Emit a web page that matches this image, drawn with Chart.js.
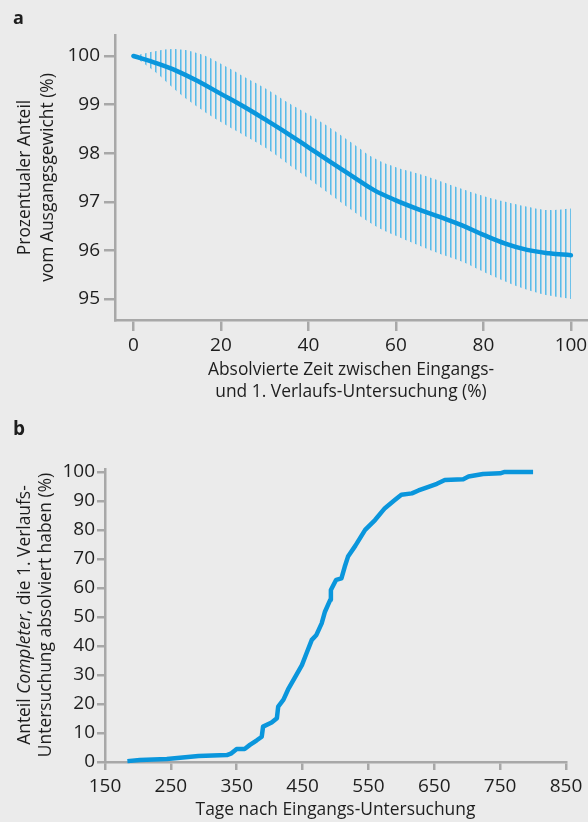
<!DOCTYPE html>
<html><head><meta charset="utf-8">
<script src="https://cdn.jsdelivr.net/npm/chart.js@4.4.1/dist/chart.umd.min.js"></script>
<style>
html,body{margin:0;padding:0;background:#ebebeb;width:588px;height:822px;overflow:hidden}
.wrap{position:absolute;left:0;width:588px}
#wa{top:0;height:410px}#wb{top:410px;height:412px}
canvas{display:block}
</style></head><body>
<div class="wrap" id="wa"><canvas id="ca" width="588" height="410"></canvas></div>
<div class="wrap" id="wb"><canvas id="cb" width="588" height="412"></canvas></div>
<script>
// ---- Panel a data ----
const timePct    = [0, 5, 10, 15, 20, 25, 30, 35, 40, 45, 50, 55, 60, 65, 70, 75, 80, 85, 90, 95, 100];
const meanWeight = [100, 99.86, 99.69, 99.47, 99.22, 98.97, 98.70, 98.42, 98.12, 97.82, 97.53, 97.24, 97.03, 96.85, 96.69, 96.52, 96.32, 96.14, 96.01, 95.94, 95.90];
const upperCI    = [100, 100.10, 100.14, 100.05, 99.84, 99.59, 99.34, 99.06, 98.80, 98.52, 98.21, 97.90, 97.71, 97.58, 97.43, 97.27, 97.12, 97.00, 96.90, 96.83, 96.86];
const lowerCI    = [100, 99.67, 99.27, 98.93, 98.64, 98.38, 98.12, 97.80, 97.48, 97.15, 96.82, 96.52, 96.30, 96.11, 95.93, 95.77, 95.56, 95.36, 95.19, 95.07, 95.00];
const xTicksA    = [0, 20, 40, 60, 80, 100];
const yTicksA    = [95, 96, 97, 98, 99, 100];

// ---- Panel b data ----
const days = [184, 203, 244, 264, 292, 335, 342, 350, 362, 370, 380, 388, 390, 403, 411, 413, 421, 428, 438, 449, 456, 464, 471, 479, 484, 492, 493, 501, 509, 514, 519, 530, 545, 560, 575, 590, 600, 616, 626, 638, 654, 666, 694, 702, 724, 750, 757, 800];
const completerPct = [0.3, 0.7, 1.0, 1.5, 2.1, 2.4, 3.0, 4.5, 4.5, 5.9, 7.4, 8.7, 12.2, 13.6, 15.1, 19.1, 21.5, 25.0, 29.0, 33.4, 37.5, 42.1, 43.8, 47.8, 51.8, 55.9, 59.3, 62.8, 63.3, 67.3, 70.8, 74.5, 80.0, 83.4, 87.5, 90.3, 92.1, 92.6, 93.6, 94.6, 95.9, 97.2, 97.5, 98.4, 99.3, 99.5, 100, 100];
const xTicksB = [150, 250, 350, 450, 550, 650, 750, 850];
const yTicksB = [0, 10, 20, 30, 40, 50, 60, 70, 80, 90, 100];

const FONT = "'Open Sans', sans-serif";
const TXT = '#1e1e1e';
const AXIS = '#a8a8a8';
const BLUE = '#0a96dc';
const HATCH = '#5abbe9';

function hatchPattern(ctx) {
  const pc = document.createElement('canvas');
  pc.width = 5; pc.height = 4;
  const p = pc.getContext('2d');
  p.fillStyle = HATCH; p.fillRect(0, 0, 1, 4);
  p.globalAlpha = 0.55; p.fillRect(1, 0, 1, 4);
  return ctx.createPattern(pc, 'repeat');
}

function axisCfg(ticksArr, min, max, fitFn, tickLen, pad) {
  return {
    type: 'linear', min, max,
    afterBuildTicks: s => { s.ticks = ticksArr.map(v => ({ value: v })); },
    afterFit: fitFn,
    grid: { display: true, drawOnChartArea: false, drawTicks: true, tickLength: tickLen, tickColor: AXIS, tickWidth: 2.5, lineWidth: 2.5, color: AXIS },
    border: { display: true, color: AXIS, width: 2.5 },
    ticks: { font: { family: FONT, size: 19 }, color: TXT, padding: pad, maxRotation: 0, autoSkip: false }
  };
}

function textPlugin(drawFn) {
  return { id: 'txt', afterDraw(chart) { const c = chart.ctx; c.save(); drawFn(c, chart); c.restore(); } };
}

// ---- Chart a ----
const ctxA = document.getElementById('ca').getContext('2d');
const pat = hatchPattern(ctxA);
new Chart(ctxA, {
  type: 'line',
  data: {
    datasets: [
      { data: timePct.map((x, i) => ({ x, y: meanWeight[i] })), borderColor: BLUE, borderWidth: 4.5, pointRadius: 0, tension: 0.4, borderCapStyle: 'round', fill: false, clip: false },
      { data: timePct.map((x, i) => ({ x, y: upperCI[i] })), borderWidth: 0, borderColor: 'rgba(0,0,0,0)', pointRadius: 0, tension: 0.4, fill: '+1', backgroundColor: pat },
      { data: timePct.map((x, i) => ({ x, y: lowerCI[i] })), borderWidth: 0, borderColor: 'rgba(0,0,0,0)', pointRadius: 0, tension: 0.4, fill: false }
    ]
  },
  options: {
    responsive: false, animation: false, devicePixelRatio: 1,
    layout: { padding: { top: 35, left: 0, right: 0, bottom: 0 } },
    plugins: { legend: { display: false }, tooltip: { enabled: false } },
    scales: {
      x: axisCfg(xTicksA, -4.2, 103.9, s => { s.height = 90; s.paddingLeft = 0; s.paddingRight = 0; }, 11, 3),
      y: axisCfg(yTicksA, 94.568, 100.432, s => { s.width = 115; s.paddingTop = 0; s.paddingBottom = 0; }, 11, 4)
    }
  },
  plugins: [textPlugin((c, chart) => {
    c.fillStyle = TXT;
    c.font = `bold 18px ${FONT}`; c.textAlign = 'left'; c.textBaseline = 'alphabetic';
    c.fillText('a', 13, 24);
    c.font = `17.4px ${FONT}`; c.textAlign = 'center';
    c.fillText('Absolvierte Zeit zwischen Eingangs-', 351, 375);
    c.fillText('und 1. Verlaufs-Untersuchung (%)', 351, 397);
    c.translate(0, 177.5); c.rotate(-Math.PI / 2); c.textBaseline = 'middle';
    c.fillText('Prozentualer Anteil', 0, 25);
    c.fillText('vom Ausgangsgewicht (%)', 0, 48);
  })]
});

// ---- Chart b ----
const ctxB = document.getElementById('cb').getContext('2d');
new Chart(ctxB, {
  type: 'line',
  data: {
    datasets: [
      { data: days.map((x, i) => ({ x, y: completerPct[i] })), borderColor: BLUE, borderWidth: 4.5, pointRadius: 0, tension: 0, borderJoinStyle: 'round', fill: false, clip: false }
    ]
  },
  options: {
    responsive: false, animation: false, devicePixelRatio: 1,
    layout: { padding: { top: 59, left: 0, right: 22, bottom: 0 } },
    plugins: { legend: { display: false }, tooltip: { enabled: false } },
    scales: {
      x: axisCfg(xTicksB, 150, 850, s => { s.height = 60; s.paddingLeft = 0; s.paddingRight = 0; }, 8, 5),
      y: axisCfg(yTicksB, 0, 101, s => { s.width = 105; s.paddingTop = 0; s.paddingBottom = 0; }, 8, 2)
    }
  },
  plugins: [textPlugin((c, chart) => {
    c.fillStyle = TXT;
    c.font = `bold 19px ${FONT}`; c.textAlign = 'left'; c.textBaseline = 'alphabetic';
    c.fillText('b', 13, 25);
    c.font = `17.4px ${FONT}`; c.textAlign = 'center';
    c.fillText('Tage nach Eingangs-Untersuchung', 335.5, 405);
    c.translate(0, 205); c.rotate(-Math.PI / 2); c.textBaseline = 'middle';
    const p1 = 'Anteil ', p2 = 'Completer', p3 = ', die 1. Verlaufs-';
    c.font = `17.4px ${FONT}`; const w1 = c.measureText(p1).width, w3 = c.measureText(p3).width;
    c.font = `italic 17.4px ${FONT}`; const w2 = c.measureText(p2).width;
    const x0 = -(w1 + w2 + w3) / 2;
    c.textAlign = 'left';
    c.font = `17.4px ${FONT}`; c.fillText(p1, x0, 25);
    c.font = `italic 17.4px ${FONT}`; c.fillText(p2, x0 + w1, 25);
    c.font = `17.4px ${FONT}`; c.fillText(p3, x0 + w1 + w2, 25);
    c.textAlign = 'center';
    c.fillText('Untersuchung absolviert haben (%)', 0, 46);
  })]
});
</script>
</body></html>
